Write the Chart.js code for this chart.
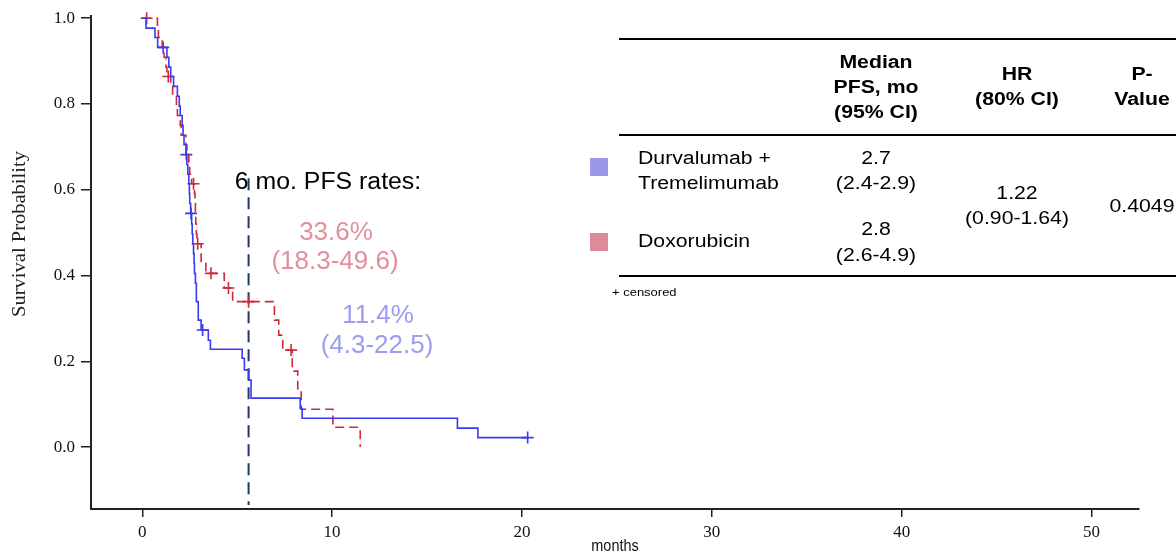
<!DOCTYPE html>
<html>
<head>
<meta charset="utf-8">
<script src="https://cdn.jsdelivr.net/npm/chart.js@4.4.1/dist/chart.umd.min.js"></script>
<style>
  html, body { margin: 0; padding: 0; background: #fff; }
  #wrap { width: 1176px; height: 555px; position: relative; }
</style>
</head>
<body>
<div id="wrap"><canvas id="kmChart" width="1176" height="555"></canvas></div>
<script>
// Durvalumab + Tremelimumab (blue), step times (months) and survival after each step
const blueTimes = [0, 0.2, 0.67, 0.81, 1.3, 1.4, 1.5, 1.65, 1.85, 1.95, 2.0, 2.1, 2.15, 2.2, 2.3,
    2.35, 2.4, 2.45, 2.48, 2.5, 2.55, 2.6, 2.63, 2.66, 2.7, 2.73, 2.75, 2.8, 2.85, 2.95,
    3.1, 3.48, 3.59, 5.26, 5.38, 5.6, 5.73, 8.32, 8.42, 16.6, 17.68, 20.3];
const blueSurv = [1.0, 0.977, 0.955, 0.932, 0.909, 0.886, 0.864, 0.841, 0.818, 0.795, 0.773, 0.75, 0.727, 0.705, 0.682,
    0.659, 0.636, 0.614, 0.591, 0.568, 0.545, 0.52, 0.497, 0.474, 0.451, 0.428, 0.405, 0.382, 0.339, 0.296,
    0.273, 0.249, 0.228, 0.207, 0.18, 0.156, 0.114, 0.09, 0.067, 0.044, 0.022, 0.022];
const blueCensored = [1.1, 2.32, 2.57, 3.18, 20.3];

// Doxorubicin (red)
const redTimes = [0, 0.8, 0.85, 1.05, 1.15, 1.25, 1.3, 1.5, 1.6, 1.8, 1.85, 2.0, 2.05, 2.3, 2.35,
    2.45, 2.5, 2.6, 2.75, 2.78, 2.8, 2.82, 2.85, 2.88, 3.1, 3.35, 4.32, 4.76, 6.96, 7.19,
    7.4, 7.9, 8.19, 8.37, 10.04, 11.48];
const redSurv = [1.0, 0.977, 0.955, 0.932, 0.909, 0.886, 0.864, 0.841, 0.818, 0.795, 0.773, 0.75, 0.727, 0.705, 0.682,
    0.659, 0.636, 0.614, 0.591, 0.568, 0.545, 0.52, 0.497, 0.474, 0.428, 0.405, 0.371, 0.339, 0.296, 0.261,
    0.226, 0.177, 0.133, 0.088, 0.046, 0.0];
const redCensored = [0.23, 1.37, 2.7, 2.92, 3.62, 4.54, 5.6, 7.84];

// 6 month marker line
const markTime = 5.6;
const markRange = [0.627, -0.135];

const xTicks = [0, 10, 20, 30, 40, 50];
const yTicks = [0, 0.2, 0.4, 0.6, 0.8, 1.0];

const blueLine = '#3a3aee';
const redLine = '#cc2a3c';

// survival value at time t from a step curve
function survAt(times, surv, t) {
    let s = surv[0];
    for (let i = 0; i < times.length; i++) {
        if (times[i] <= t) s = surv[i];
    }
    return s;
}

const bluePts = blueTimes.map((t, i) => ({ x: t, y: blueSurv[i] }));
const redPts = redTimes.map((t, i) => ({ x: t, y: redSurv[i] }));
const blueCens = blueCensored.map(t => ({ x: t, y: survAt(blueTimes, blueSurv, t) }));
const redCens = redCensored.map(t => ({ x: t, y: survAt(redTimes, redSurv, t) }));

function txt(ctx, s, x, y, font, color, align, sx) {
    ctx.save();
    ctx.translate(x, y);
    ctx.scale(sx || 1, 1);
    ctx.font = font;
    ctx.fillStyle = color;
    ctx.textAlign = align || 'center';
    ctx.textBaseline = 'middle';
    ctx.fillText(s, 0, 0);
    ctx.restore();
}

const overlay = {
    id: 'overlay',
    afterDraw(chart) {
        const ctx = chart.ctx;
        const sans = '"Liberation Sans", Arial, sans-serif';

        // axis titles
        ctx.save();
        ctx.translate(20, 234);
        ctx.rotate(-Math.PI / 2);
        ctx.scale(1.14, 1);
        ctx.font = '18px "Liberation Serif", "Times New Roman", serif';
        ctx.fillStyle = '#222';
        ctx.textAlign = 'center';
        ctx.textBaseline = 'middle';
        ctx.fillText('Survival Probability', 0, 0);
        ctx.restore();
        txt(ctx, 'months', 615, 546, '17px ' + sans, '#111', 'center', 0.85);

        // 6 month annotations
        txt(ctx, '6 mo. PFS rates:', 328, 183, '23px ' + sans, '#000', 'center', 1.08);
        txt(ctx, '33.6%', 336, 233, '25px ' + sans, '#e0909a', 'center', 1.04);
        txt(ctx, '(18.3-49.6)', 335, 262, '25px ' + sans, '#e0909a', 'center', 1.04);
        txt(ctx, '11.4%', 378, 316, '25px ' + sans, '#9c9cf0', 'center', 1.04);
        txt(ctx, '(4.3-22.5)', 377, 346, '25px ' + sans, '#9c9cf0', 'center', 1.04);

        // table rules
        ctx.save();
        ctx.strokeStyle = '#000';
        ctx.lineWidth = 2;
        [39, 135, 276].forEach(y => {
            ctx.beginPath();
            ctx.moveTo(619, y);
            ctx.lineTo(1176, y);
            ctx.stroke();
        });
        ctx.restore();

        const bold = 'bold 18px ' + sans;
        const reg = '18px ' + sans;
        const sx = 1.18;
        txt(ctx, 'Median', 876, 63, bold, '#000', 'center', sx);
        txt(ctx, 'PFS, mo', 876, 88, bold, '#000', 'center', sx);
        txt(ctx, '(95% CI)', 876, 113, bold, '#000', 'center', sx);
        txt(ctx, 'HR', 1017, 75, bold, '#000', 'center', sx);
        txt(ctx, '(80% CI)', 1017, 100, bold, '#000', 'center', sx);
        txt(ctx, 'P-', 1142, 75, bold, '#000', 'center', sx);
        txt(ctx, 'Value', 1142, 100, bold, '#000', 'center', sx);

        ctx.fillStyle = '#9a98ea';
        ctx.fillRect(590, 158, 18, 18);
        ctx.fillStyle = '#dc8c98';
        ctx.fillRect(590, 233, 18, 18);

        txt(ctx, 'Durvalumab +', 638, 159, reg, '#000', 'left', sx);
        txt(ctx, 'Tremelimumab', 638, 184, reg, '#000', 'left', sx);
        txt(ctx, 'Doxorubicin', 638, 242, reg, '#000', 'left', sx);
        txt(ctx, '2.7', 876, 159, reg, '#000', 'center', sx);
        txt(ctx, '(2.4-2.9)', 876, 184, reg, '#000', 'center', sx);
        txt(ctx, '2.8', 876, 230, reg, '#000', 'center', sx);
        txt(ctx, '(2.6-4.9)', 876, 256, reg, '#000', 'center', sx);
        txt(ctx, '1.22', 1017, 194, reg, '#000', 'center', sx);
        txt(ctx, '(0.90-1.64)', 1017, 219, reg, '#000', 'center', sx);
        txt(ctx, '0.4049', 1142, 207, reg, '#000', 'center', sx);
        txt(ctx, '+ censored', 612, 293, '11px ' + sans, '#000', 'left', sx);
    }
};

const ctx = document.getElementById('kmChart').getContext('2d');

const serifTick = { family: '"Liberation Serif", "Times New Roman", serif', size: 17 };

new Chart(ctx, {
    type: 'scatter',
    data: {
        datasets: [
            {
                label: 'Durvalumab + Tremelimumab',
                data: bluePts,
                showLine: true,
                stepped: 'before',
                borderColor: blueLine,
                borderWidth: 1.6,
                pointRadius: 0,
                clip: false
            },
            {
                label: 'Doxorubicin',
                data: redPts,
                showLine: true,
                stepped: 'before',
                borderColor: redLine,
                borderWidth: 1.6,
                borderDash: [9, 5],
                pointRadius: 0,
                clip: false
            },
            {
                label: 'blue censored',
                data: blueCens,
                pointStyle: 'cross',
                pointRadius: 6,
                borderColor: blueLine,
                borderWidth: 1.6,
                clip: false
            },
            {
                label: 'red censored',
                data: redCens,
                pointStyle: 'cross',
                pointRadius: 6,
                borderColor: redLine,
                borderWidth: 1.6,
                clip: false
            },
            {
                label: '6 mo',
                data: markRange.map(v => ({ x: markTime, y: v })),
                showLine: true,
                borderColor: '#1f3864',
                borderWidth: 2,
                borderDash: [12, 7],
                pointRadius: 0,
                clip: false
            }
        ]
    },
    options: {
        responsive: false,
        animation: false,
        layout: { padding: { left: 0, top: 16, right: 37, bottom: 0 } },
        plugins: {
            legend: { display: false },
            tooltip: { enabled: false }
        },
        scales: {
            x: {
                type: 'linear',
                min: -2.7,
                max: 52.5,
                afterBuildTicks: s => { s.ticks = xTicks.map(v => ({ value: v })); },
                afterFit: s => { s.height = 46; },
                grid: { drawOnChartArea: false, drawTicks: true, tickLength: 8, color: '#222', lineWidth: 1.5 },
                border: { display: true, color: '#222', width: 2 },
                ticks: { font: serifTick, color: '#111', padding: 5, maxRotation: 0 }
            },
            y: {
                type: 'linear',
                min: -0.1445,
                max: 1.0047,
                afterBuildTicks: s => { s.ticks = yTicks.map(v => ({ value: v })); },
                afterFit: s => { s.width = 91; },
                grid: { drawOnChartArea: false, drawTicks: true, tickLength: 10, color: '#222', lineWidth: 1.5 },
                border: { display: true, color: '#222', width: 2 },
                ticks: { font: serifTick, color: '#111', padding: 6, callback: v => v.toFixed(1) }
            }
        }
    },
    plugins: [overlay]
});
</script>
</body>
</html>
